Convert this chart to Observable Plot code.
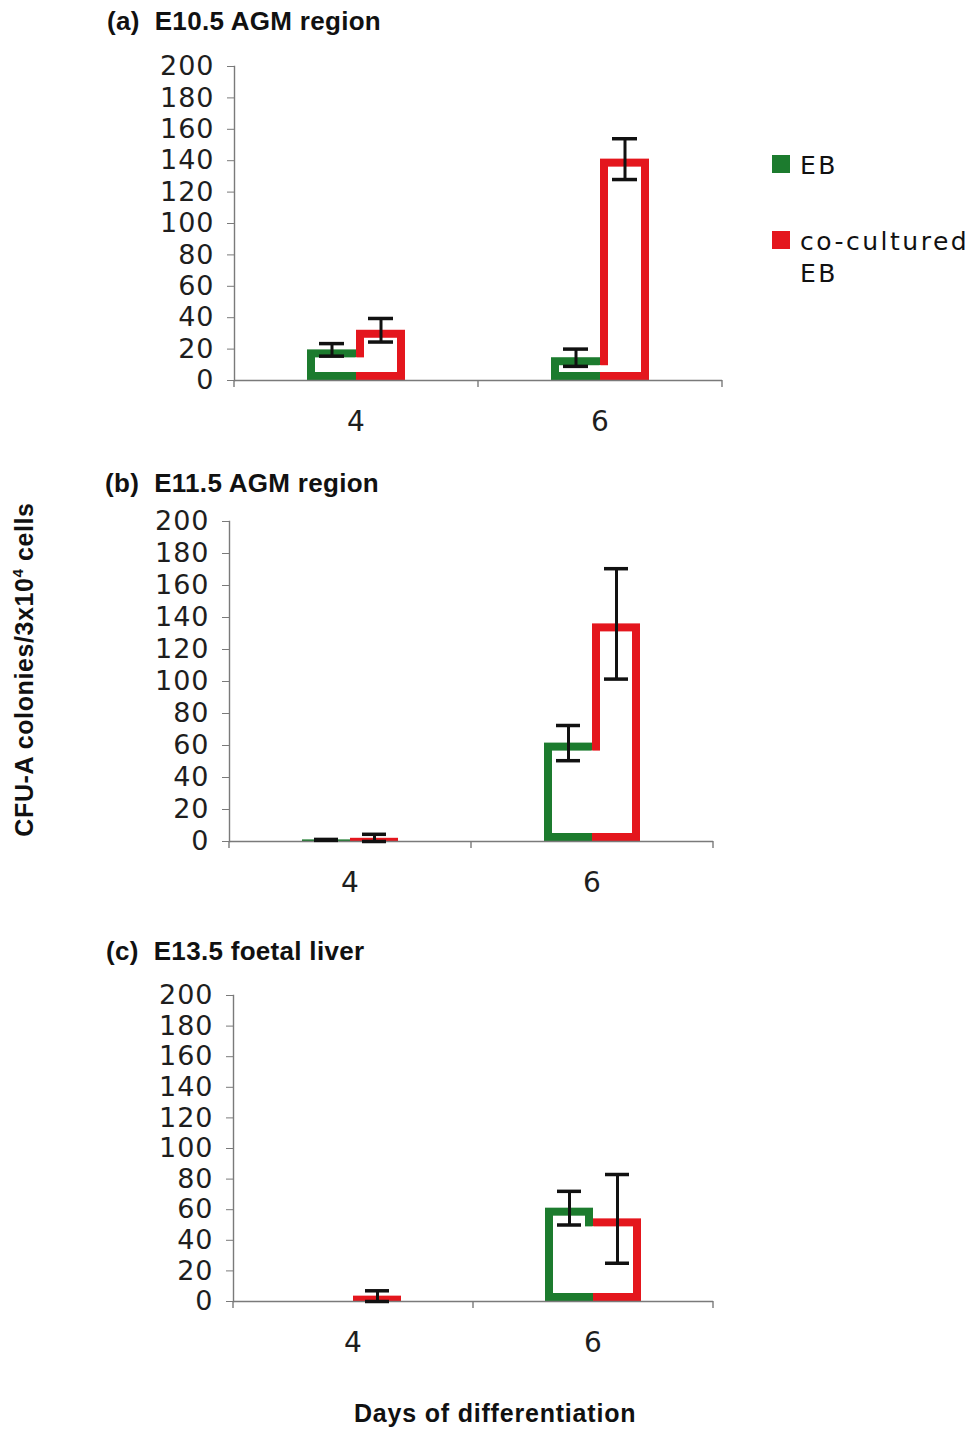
<!DOCTYPE html>
<html>
<head>
<meta charset="utf-8">
<script src="https://cdn.jsdelivr.net/npm/d3@7"></script>
<script src="https://cdn.jsdelivr.net/npm/@observablehq/plot@0.6"></script>
<style>
  html, body { margin: 0; padding: 0; background: #fff; }
  #page { position: relative; width: 978px; height: 1429px; overflow: hidden; }
  .title { position: absolute; font-family: "Liberation Sans", Arial, sans-serif; font-weight: bold;
           font-size: 26px; line-height: 26px; letter-spacing: 0.3px; color: #111; white-space: pre; }
  .axis-title { position: absolute; font-family: "Liberation Sans", Arial, sans-serif; font-weight: bold;
                font-size: 25px; line-height: 25px; color: #111; white-space: nowrap; }
  .axis-title sup { font-size: 15px; vertical-align: 10px; line-height: 0; }
  .legend { position: absolute; left: 772px; top: 150px; font-family: "DejaVu Sans", sans-serif;
            font-size: 25px; line-height: 32px; letter-spacing: 2.5px; color: #111; }
  .legend .item { position: relative; padding-left: 28px; margin-bottom: 44px; }
  .legend .swatch { position: absolute; left: 0; top: 5px; width: 18px; height: 18px; }
  .panel { position: absolute; }
</style>
</head>
<body>
<div id="page"></div>
<script>
// Days of differentiation and the two culture conditions
const days = ["4", "6"];
const series = ["EB", "co-cultured EB"];
const seriesColors = ["#1c7b2e", "#e4161d"];

// Panel headings
const panelTitles = ["(a)  E10.5 AGM region", "(b)  E11.5 AGM region", "(c)  E13.5 foetal liver"];

// Y axis tick values (CFU-A colonies per 3x10^4 cells)
const yTicks = [0, 20, 40, 60, 80, 100, 120, 140, 160, 180, 200];

// Mean colony counts, one row per panel, one entry per day
const ebMeans = [[19.5, 14.5], [1, 61.5], [0, 61]];
const ebErrors = [[4, 5.5], [0.3, 11], [0, 11]];
const coMeans = [[32, 141], [2, 136], [3.5, 54]];
const coErrors = [[7.5, 13], [2.5, 34.5], [3.5, 29]];

// Placement of each panel's svg on the page
const panelLayout = [
  {left: 154, top: 56, width: 578, plotHeight: 314, titleLeft: 107, titleTop: 8},
  {left: 148, top: 511, width: 575, plotHeight: 320, titleLeft: 105, titleTop: 470},
  {left: 153, top: 985, width: 570, plotHeight: 306, titleLeft: 106, titleTop: 938}
];

const axisGray = "#7a7a7a";
const textColor = "#1e1e1e";
const border = 8;
const margins = {top: 10, right: 10, bottom: 60, left: 80};

const page = document.getElementById("page");

function rowsFor(p) {
  const rows = [];
  days.forEach((day, j) => {
    rows.push({day, series: series[0], value: ebMeans[p][j], err: ebErrors[p][j]});
    rows.push({day, series: series[1], value: coMeans[p][j], err: coErrors[p][j]});
  });
  return rows.filter(d => d.value > 0);
}

// Hollow-bar interiors: white pieces laid over the coloured bars so that
// the pair of bars on each day reads as one thick outline.
function interiorPieces(rows, pxPerUnit) {
  const pieces = [];
  const minUnits = (2 * border + 2) / pxPerUnit;
  for (const day of days) {
    const pair = rows.filter(d => d.day === day && d.value > minUnits);
    if (pair.length === 1) {
      pieces.push({day, series: pair[0].series, y1: 0, y2: pair[0].value, kind: "solo"});
    } else if (pair.length === 2) {
      const [a, b] = pair;
      const lo = Math.min(a.value, b.value);
      const tall = a.value >= b.value ? a : b;
      const short = tall === a ? b : a;
      pieces.push({day, series: short.series, y1: 0, y2: short.value, kind: "low"});
      pieces.push({day, series: tall.series, y1: 0, y2: lo, kind: "low"});
      pieces.push({day, series: tall.series, y1: lo, y2: tall.value, kind: "high"});
    }
  }
  return pieces;
}

function interiorMarks(pieces) {
  const marks = [];
  series.forEach((s, i) => {
    const outerLeft = i === 0;
    for (const kind of ["solo", "low", "high"]) {
      const inner = kind === "low" ? -0.5 : border;
      const data = pieces.filter(d => d.series === s && d.kind === kind);
      if (!data.length) continue;
      marks.push(Plot.barY(data, {
        fx: "day", x: "series", y1: "y1", y2: "y2", fill: "white",
        insetTop: border,
        insetBottom: kind === "high" ? -border - 1.5 : border,
        insetLeft: outerLeft ? border : inner,
        insetRight: outerLeft ? inner : border
      }));
    }
  });
  return marks;
}

panelTitles.forEach((title, p) => {
  const L = panelLayout[p];
  const rows = rowsFor(p);
  const errRows = rows.filter(d => d.err > 0).map(d => ({
    ...d, lo: Math.max(0, d.value - d.err), hi: d.value + d.err
  }));
  const pxPerUnit = L.plotHeight / 200;

  const plot = Plot.plot({
    width: L.width,
    height: margins.top + L.plotHeight + margins.bottom,
    marginTop: margins.top,
    marginRight: margins.right,
    marginBottom: margins.bottom,
    marginLeft: margins.left,
    style: {fontFamily: "DejaVu Sans, sans-serif", letterSpacing: "1px", background: "transparent", overflow: "visible"},
    fx: {domain: days, padding: 0, label: null},
    x: {domain: series, paddingInner: 0, paddingOuter: 1.47, axis: null},
    y: {domain: [0, 200], label: null},
    color: {domain: series, range: seriesColors},
    marks: [
      Plot.barY(rows, {fx: "day", x: "series", y: "value", fill: "series"}),
      ...interiorMarks(interiorPieces(rows, pxPerUnit)),
      Plot.ruleY([0], {stroke: axisGray, strokeWidth: 1.4}),
      Plot.frame({anchor: "left", facetAnchor: "left", stroke: axisGray, strokeWidth: 1.4}),
      Plot.axisY({ticks: yTicks, tickSize: 7, tickPadding: 13, fontSize: 27, stroke: axisGray, fill: textColor, label: null, tickFormat: d => String(d)}),
      Plot.axisFx({anchor: "bottom", tickSize: 0, tickPadding: 31, fontSize: 28, fill: textColor, label: null}),
      Plot.ruleX(errRows, {fx: "day", x: "series", y1: "lo", y2: "hi", stroke: "#111", strokeWidth: 3}),
      Plot.tickY(errRows, {fx: "day", x: "series", y: "hi", stroke: "#111", strokeWidth: 3.5, insetLeft: 12, insetRight: 12}),
      Plot.tickY(errRows, {fx: "day", x: "series", y: "lo", stroke: "#111", strokeWidth: 3.5, insetLeft: 12, insetRight: 12})
    ]
  });

  // Category boundary ticks below the baseline, placed with the fx scale
  const fx = plot.scale("fx");
  const y = plot.scale("y");
  const edges = days.map(d => fx.apply(d));
  edges.push(fx.apply(days[days.length - 1]) + fx.bandwidth);
  const y0 = y.apply(0);
  d3.select(plot).append("g")
    .selectAll("line").data(edges).join("line")
    .attr("x1", d => d).attr("x2", d => d)
    .attr("y1", y0).attr("y2", y0 + 7)
    .attr("stroke", axisGray).attr("stroke-width", 1.4);

  plot.classList.add("panel");
  plot.style.left = L.left + "px";
  plot.style.top = L.top + "px";
  page.appendChild(plot);

  const t = document.createElement("div");
  t.className = "title";
  t.textContent = title;
  t.style.left = L.titleLeft + "px";
  t.style.top = L.titleTop + "px";
  page.appendChild(t);
});

// Shared legend
const legend = document.createElement("div");
legend.className = "legend";
series.forEach((s, i) => {
  const item = document.createElement("div");
  item.className = "item";
  const sw = document.createElement("span");
  sw.className = "swatch";
  sw.style.background = seriesColors[i];
  item.appendChild(sw);
  const label = s === "co-cultured EB" ? "co-cultured<br>EB" : s;
  const txt = document.createElement("span");
  txt.innerHTML = label;
  item.appendChild(txt);
  legend.appendChild(item);
});
page.appendChild(legend);

// Shared axis titles
const yTitle = document.createElement("div");
yTitle.className = "axis-title";
yTitle.innerHTML = "CFU-A colonies/3x10<sup>4</sup> cells";
yTitle.style.letterSpacing = "0.6px";
page.appendChild(yTitle);
const yw = yTitle.offsetWidth, yh = yTitle.offsetHeight;
yTitle.style.left = (24 - yw / 2) + "px";
yTitle.style.top = (669 - yh / 2) + "px";
yTitle.style.transform = "rotate(-90deg)";

const xTitle = document.createElement("div");
xTitle.className = "axis-title";
xTitle.textContent = "Days of differentiation";
xTitle.style.letterSpacing = "0.8px";
page.appendChild(xTitle);
xTitle.style.left = (495 - xTitle.offsetWidth / 2) + "px";
xTitle.style.top = "1401px";
</script>
</body>
</html>
